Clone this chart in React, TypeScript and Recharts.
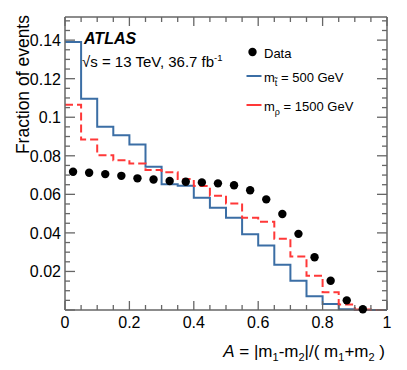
import { ComposedChart, Line, Scatter, XAxis, YAxis, ReferenceLine, Legend } from 'recharts'

// bin edges of the histograms (last edge closes the final bin)
const binEdges = [0, 0.05, 0.1, 0.15, 0.2, 0.25, 0.3, 0.35, 0.4, 0.45, 0.5, 0.55, 0.6, 0.65, 0.7, 0.75, 0.8, 0.85, 0.9, 0.95, 1]
const binCenters = [0.025, 0.075, 0.125, 0.175, 0.225, 0.275, 0.325, 0.375, 0.425, 0.475, 0.525, 0.575, 0.625, 0.675, 0.725, 0.775, 0.825, 0.875, 0.925]

const stopValues = [0.139, 0.1096, 0.0951, 0.0906, 0.0858, 0.0743, 0.0652, 0.0645, 0.0582, 0.0531, 0.0479, 0.0393, 0.0334, 0.0235, 0.0152, 0.0071, 0.0031, 0.0004, 0, 0]
const rhoValues = [0.1065, 0.0884, 0.0803, 0.0777, 0.076, 0.0726, 0.0714, 0.0679, 0.0643, 0.0593, 0.0553, 0.0479, 0.0458, 0.0369, 0.0278, 0.0178, 0.0092, 0.0028, 0.0003, 0]
const dataValues = [0.0717, 0.0712, 0.0705, 0.0696, 0.0683, 0.0677, 0.0669, 0.0665, 0.0662, 0.0657, 0.0647, 0.0621, 0.0574, 0.0498, 0.0395, 0.0274, 0.0152, 0.005, 0.0004]

const xTicks = [0, 0.05, 0.1, 0.15, 0.2, 0.25, 0.3, 0.35, 0.4, 0.45, 0.5, 0.55, 0.6, 0.65, 0.7, 0.75, 0.8, 0.85, 0.9, 0.95, 1]
const yTicks = Array.from({ length: 31 }, (_, i) => +(i * 0.005).toFixed(3))

const Y_MAX = 0.152
const FONT = '"Liberation Sans", Arial, Helvetica, sans-serif'
const AXIS = '#666'
const BLUE = '#3b6ea5'
const RED = '#ff3838'

const PLOT_LEFT = 65
const PLOT_RIGHT = 387
const PLOT_TOP = 17
const PLOT_BOTTOM = 310

// step histogram: value of each bin at its low edge, last value repeated at x=1
const toSteps = (vals: number[]) => binEdges.map((x, i) => ({ x, y: vals[Math.min(i, vals.length - 1)] }))
const stopData = toSteps(stopValues)
const rhoData = toSteps(rhoValues)
const pointData = binCenters.map((x, i) => ({ x, y: dataValues[i] }))

const isMajorX = (v: number) => Math.abs(v * 5 - Math.round(v * 5)) < 1e-6
const isMajorY = (v: number) => Math.abs(v * 50 - Math.round(v * 50)) < 1e-6

function XTick(props: any) {
  const { x, payload } = props
  const v = payload.value
  const len = isMajorX(v) ? 9 : 5
  return (
    <g>
      <line x1={x} x2={x} y1={PLOT_BOTTOM} y2={PLOT_BOTTOM - len} stroke={AXIS} strokeWidth={1.3} />
      <line x1={x} x2={x} y1={PLOT_TOP} y2={PLOT_TOP + len} stroke={AXIS} strokeWidth={1.3} />
      {isMajorX(v) && (
        <text x={x} y={328} textAnchor="middle" fontSize={16} fontFamily={FONT} fill="#000">
          {String(+v.toFixed(1))}
        </text>
      )}
    </g>
  )
}

function YTick(props: any) {
  const { y, payload } = props
  const v = payload.value
  const len = isMajorY(v) ? 10 : 5
  return (
    <g>
      <line x1={PLOT_LEFT} x2={PLOT_LEFT + len} y1={y} y2={y} stroke={AXIS} strokeWidth={1.3} />
      <line x1={PLOT_RIGHT} x2={PLOT_RIGHT - len} y1={y} y2={y} stroke={AXIS} strokeWidth={1.3} />
      {isMajorY(v) && v > 0 && (
        <text x={61} y={y + 6} textAnchor="end" fontSize={16} fontFamily={FONT} fill="#000">
          {String(+v.toFixed(2))}
        </text>
      )}
    </g>
  )
}

function LegendBox() {
  return (
    <svg width={160} height={85} style={{ fontFamily: FONT }}>
      <circle cx={12.5} cy={17} r={4.2} fill="#000" />
      <text x={24} y={22.5} fontSize={13}>Data</text>
      <line x1={6.5} x2={21.5} y1={41} y2={41} stroke={BLUE} strokeWidth={2} />
      <text x={24} y={46.5} fontSize={13}>
        m<tspan dy={4} fontSize={9}>{'t\u0303'}</tspan><tspan dy={-4}> = 500 GeV</tspan>
      </text>
      <line x1={6.5} x2={21.5} y1={70} y2={70} stroke={RED} strokeWidth={2} />
      <text x={24} y={76} fontSize={13}>
        m<tspan dy={4} fontSize={9}>ρ</tspan><tspan dy={-4}> = 1500 GeV</tspan>
      </text>
    </svg>
  )
}

function XTitle() {
  return (
    <text x={385} y={357} textAnchor="end" fontSize={17} fontFamily={FONT} fill="#000">
      <tspan fontStyle="italic">A</tspan>
      <tspan> = |m</tspan>
      <tspan dy={4} fontSize={11}>1</tspan>
      <tspan dy={-4}>-m</tspan>
      <tspan dy={4} fontSize={11}>2</tspan>
      <tspan dy={-4}>|/( m</tspan>
      <tspan dy={4} fontSize={11}>1</tspan>
      <tspan dy={-4}>+m</tspan>
      <tspan dy={4} fontSize={11}>2</tspan>
      <tspan dy={-4}> )</tspan>
    </text>
  )
}

function YTitle() {
  return (
    <text
      x={0}
      y={0}
      transform="translate(28.5,15) rotate(-90)"
      textAnchor="end"
      fontSize={17.5}
      fontFamily={FONT}
      fill="#000"
    >
      Fraction of events
    </text>
  )
}

export default function App() {
  return (
    <div style={{ position: 'absolute', left: 0, top: 0, width: 407, height: 370, background: '#fff' }}>
      <ComposedChart width={407} height={370} margin={{ top: PLOT_TOP, right: 407 - PLOT_RIGHT, bottom: 30, left: 0 }}>
        <XAxis
          type="number"
          dataKey="x"
          domain={[0, 1]}
          ticks={xTicks}
          interval={0}
          height={30}
          tickLine={false}
          axisLine={{ stroke: AXIS, strokeWidth: 1.5 }}
          tick={<XTick />}
          label={<XTitle />}
        />
        <YAxis
          type="number"
          dataKey="y"
          domain={[0, Y_MAX]}
          ticks={yTicks}
          interval={0}
          width={PLOT_LEFT}
          tickLine={false}
          axisLine={{ stroke: AXIS, strokeWidth: 1.5 }}
          tick={<YTick />}
          label={<YTitle />}
        />
        <ReferenceLine y={Y_MAX} stroke={AXIS} strokeWidth={1.5} />
        <ReferenceLine x={1} stroke={AXIS} strokeWidth={1.5} />
        <Line
          data={stopData}
          dataKey="y"
          type="stepAfter"
          stroke={BLUE}
          strokeWidth={2}
          dot={false}
          isAnimationActive={false}
          name="stop"
        />
        <Line
          data={rhoData}
          dataKey="y"
          type="stepAfter"
          stroke={RED}
          strokeWidth={2}
          strokeDasharray="8 4"
          dot={false}
          isAnimationActive={false}
          name="rho"
        />
        <Scatter
          data={pointData}
          dataKey="y"
          fill="#000"
          shape={(p: any) => <circle cx={p.cx} cy={p.cy} r={4.2} fill="#000" />}
          isAnimationActive={false}
          name="Data"
        />
        <Legend
          layout="vertical"
          align="center"
          verticalAlign="middle"
          wrapperStyle={{ left: 240, top: 35, width: 160 }}
          content={() => <LegendBox />}
        />
      </ComposedChart>
      <svg width={407} height={370} style={{ position: 'absolute', left: 0, top: 0, pointerEvents: 'none' }}>
        <text x={84} y={44} fontSize={16} fontWeight="bold" fontStyle="italic" fontFamily={FONT}>ATLAS</text>
        <text x={82} y={66.5} fontSize={15} fontFamily={FONT}>
          √s = 13 TeV, 36.7 fb<tspan dy={-6} fontSize={9.5}>-1</tspan>
        </text>
      </svg>
    </div>
  )
}
